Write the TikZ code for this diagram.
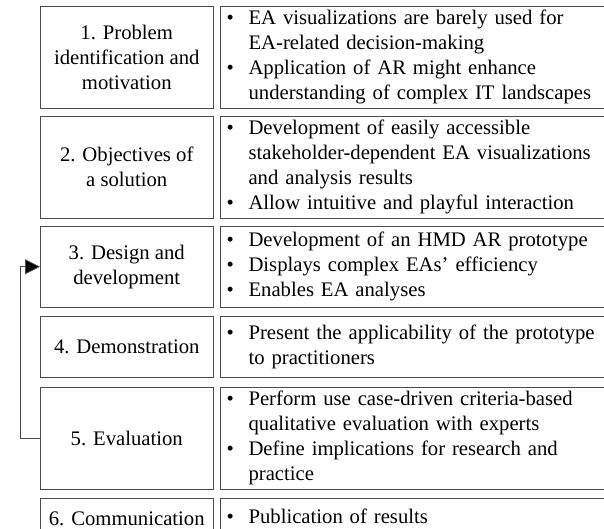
\documentclass[tikz,border=0pt]{standalone}
\usepackage{fontspec}
\setmainfont{Liberation Serif}
\usetikzlibrary{arrows.meta}

\newcommand{\pts}[1]{\begin{tabular}{@{}l@{\hspace{7.3pt}}l@{}}#1\end{tabular}}

\begin{document}
\begin{tikzpicture}[x=1pt, y=-1pt,
        every node/.style={font=\fontsize{10.35}{12.5}\selectfont},
        stage/.style={draw=black!70, anchor=north west, minimum width=86.35pt, align=center, inner sep=0pt},
        notes/.style={draw=black!70, anchor=north west, text width=194pt, inner xsep=3.15pt, inner ysep=0pt, align=left}]
        \useasboundingbox (0,0) rectangle (302,264.5);
        \clip (0,0) rectangle (302,264.5);
        % activities
        \node[stage, minimum height=51pt] (ident) at (20,2.85) {1. Problem\\identification and\\motivation};
        \node[stage, minimum height=51.15pt] (obj) at (20,57.85) {2. Objectives of\\a solution};
        \node[stage, minimum height=40.35pt] (design) at (20,113) {3. Design and\\development};
        \node[stage, minimum height=30.8pt] (demo) at (20,157.85) {4. Demonstration};
        \node[stage, minimum height=51.15pt] (eval) at (20,193.35) {5. Evaluation};
        \node[stage, minimum height=20pt] (comm) at (20,249.15) {6. Communication};
        % outcomes
        \node[notes, minimum height=51pt] (identn) at (110,2.85) {\pts{%
            \textbullet & EA visualizations are barely used for\\
            & EA-related decision-making\\
            \textbullet & Application of AR might enhance\\
            & understanding of complex IT landscapes}};
        \node[notes, minimum height=51.15pt] (objn) at (110,57.85) {\pts{%
            \textbullet & Development of easily accessible\\
            & stakeholder-dependent EA visualizations\\
            & and analysis results\\
            \textbullet & Allow intuitive and playful interaction}};
        \node[notes, minimum height=40.35pt] (designn) at (110,113) {\pts{%
            \textbullet & Development of an HMD AR prototype\\
            \textbullet & Displays complex EAs’ efficiency\\
            \textbullet & Enables EA analyses}};
        \node[notes, minimum height=30.8pt] (demon) at (110,157.85) {\pts{%
            \textbullet & Present the applicability of the prototype\\
            & to practitioners}};
        \node[notes, minimum height=51.15pt] (evaln) at (110,193.35) {\pts{%
            \textbullet & Perform use case-driven criteria-based\\
            & qualitative evaluation with experts\\
            \textbullet & Define implications for research and\\
            & practice}};
        \node[notes, minimum height=20pt] (commn) at (110,249.15) {\pts{%
            \textbullet & Publication of results}};
        % iterate back to design
        \draw[black!70, -{Triangle[length=7.5pt, width=7.5pt, fill=black]}] (eval.west) -- ++(-9.65,0) |- (design.west);
    \end{tikzpicture}
\end{document}
